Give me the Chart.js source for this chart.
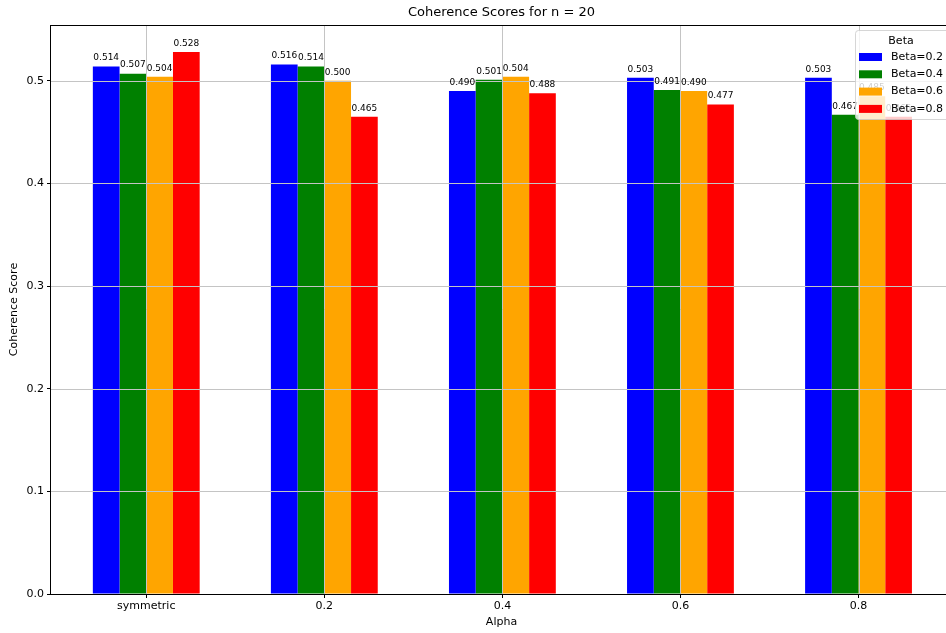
<!DOCTYPE html>
<html>
<head>
<meta charset="utf-8">
<title>Coherence Scores</title>
<script src="https://cdn.jsdelivr.net/npm/chart.js@4.4.1/dist/chart.umd.min.js"></script>
<style>
  body { margin: 0; overflow: hidden; background: white; }
  #wrap { width: 960px; height: 633px; }
</style>
</head>
<body>
<div id="wrap"><canvas id="chartCoherence" width="960" height="633"></canvas></div>
<script>
// Valores de alpha (eje x) y de beta (series)
const alphas = ["symmetric", "0.2", "0.4", "0.6", "0.8"];
const betaLabels = ["Beta=0.2", "Beta=0.4", "Beta=0.6", "Beta=0.8"];
const betaColors = ["blue", "green", "orange", "red"];
// Puntajes de coherencia por beta, en el orden de alphas
const beta02 = [0.514, 0.516, 0.490, 0.503, 0.503];
const beta04 = [0.507, 0.514, 0.501, 0.491, 0.467];
const beta06 = [0.504, 0.500, 0.504, 0.490, 0.485];
const beta08 = [0.528, 0.465, 0.488, 0.477, 0.465];
const yTicks = [0, 0.1, 0.2, 0.3, 0.4, 0.5];

const font = "DejaVu Sans";
const gridColor = "#c4c4c4";

// Se arman los datasets con posición numérica en x
const series = [beta02, beta04, beta06, beta08];
const datasets = series.map((values, i) => ({
  label: betaLabels[i],
  backgroundColor: betaColors[i],
  borderWidth: 0,
  data: values.map((v, j) => ({ x: j, y: v })),
}));

// Plugin para grilla sobre las barras, marco, etiquetas, título y leyenda
const overlay = {
  id: "overlay",
  afterDatasetsDraw(chart) {
    const { ctx, chartArea: a, scales } = chart;
    ctx.save();

    // Grilla
    ctx.strokeStyle = gridColor;
    ctx.lineWidth = 1;
    scales.x.ticks.forEach((t) => {
      const px = Math.round(scales.x.getPixelForValue(t.value)) + 0.5;
      ctx.beginPath();
      ctx.moveTo(px, a.top);
      ctx.lineTo(px, a.bottom);
      ctx.stroke();
    });
    scales.y.ticks.forEach((t) => {
      const py = Math.round(scales.y.getPixelForValue(t.value)) + 0.5;
      ctx.beginPath();
      ctx.moveTo(a.left, py);
      ctx.lineTo(a.right, py);
      ctx.stroke();
    });

    // Marco del gráfico
    ctx.strokeStyle = "black";
    ctx.strokeRect(a.left - 0.5, a.top + 0.5, a.right - a.left + 1, a.bottom - a.top);

    // Valores encima de cada barra
    ctx.fillStyle = "#000";
    ctx.font = `9px "${font}"`;
    ctx.textAlign = "center";
    ctx.textBaseline = "bottom";
    chart.data.datasets.forEach((ds, i) => {
      chart.getDatasetMeta(i).data.forEach((bar, j) => {
        ctx.fillText(ds.data[j].y.toFixed(3), bar.x, bar.y - 4);
      });
    });

    // Título
    ctx.font = `13px "${font}"`;
    ctx.textBaseline = "middle";
    ctx.fillText("Coherence Scores for n = 20", (a.left + a.right) / 2, 13);

    // Leyenda
    const lx = 855, ly = 30, lw = 95, lh = 89;
    ctx.fillStyle = "rgba(255,255,255,0.8)";
    ctx.strokeStyle = "rgba(204,204,204,0.8)";
    ctx.beginPath();
    ctx.roundRect(lx + 0.5, ly + 0.5, lw, lh, 3);
    ctx.fill();
    ctx.stroke();
    ctx.fillStyle = "#000";
    ctx.font = `11px "${font}"`;
    ctx.fillText("Beta", 901, 41);
    ctx.textAlign = "left";
    chart.data.datasets.forEach((ds, i) => {
      const ry = 57 + i * 17.3;
      ctx.fillStyle = ds.backgroundColor;
      ctx.fillRect(859, ry - 4, 23, 8);
      ctx.fillStyle = "#000";
      ctx.fillText(ds.label, 891, ry);
    });

    ctx.restore();
  },
};

const canvas = document.getElementById("chartCoherence");
new Chart(canvas, {
  type: "bar",
  data: { datasets },
  options: {
    responsive: false,
    animation: false,
    layout: { padding: { left: 0, top: 25, right: 8, bottom: 0 } },
    datasets: { bar: { categoryPercentage: 0.6, barPercentage: 1 } },
    plugins: { legend: { display: false }, tooltip: { enabled: false } },
    scales: {
      x: {
        type: "linear",
        min: -0.535,
        max: 4.525,
        offset: false,
        afterFit: (s) => { s.height = 39; },
        afterBuildTicks: (s) => { s.ticks = alphas.map((_, i) => ({ value: i })); },
        border: { display: false },
        grid: { offset: false, drawOnChartArea: false, drawTicks: true, tickLength: 4, tickColor: "#000" },
        ticks: {
          color: "#000",
          padding: 2,
          font: { family: font, size: 11 },
          callback: (v) => alphas[v],
        },
        title: { display: true, text: "Alpha", color: "#000", font: { family: font, size: 11 }, padding: { top: 4, bottom: 4 } },
      },
      y: {
        min: 0,
        max: 0.5544,
        afterFit: (s) => { s.width = 51; },
        afterBuildTicks: (s) => { s.ticks = yTicks.map((v) => ({ value: v })); },
        border: { display: false },
        grid: { drawOnChartArea: false, drawTicks: true, tickLength: 4, tickColor: "#000" },
        ticks: {
          color: "#000",
          padding: 3,
          font: { family: font, size: 11 },
          callback: (v) => v.toFixed(1),
        },
        title: { display: true, text: "Coherence Score", color: "#000", font: { family: font, size: 11 }, padding: { top: 8, bottom: 4 } },
      },
    },
  },
  plugins: [overlay],
});
</script>
</body>
</html>
